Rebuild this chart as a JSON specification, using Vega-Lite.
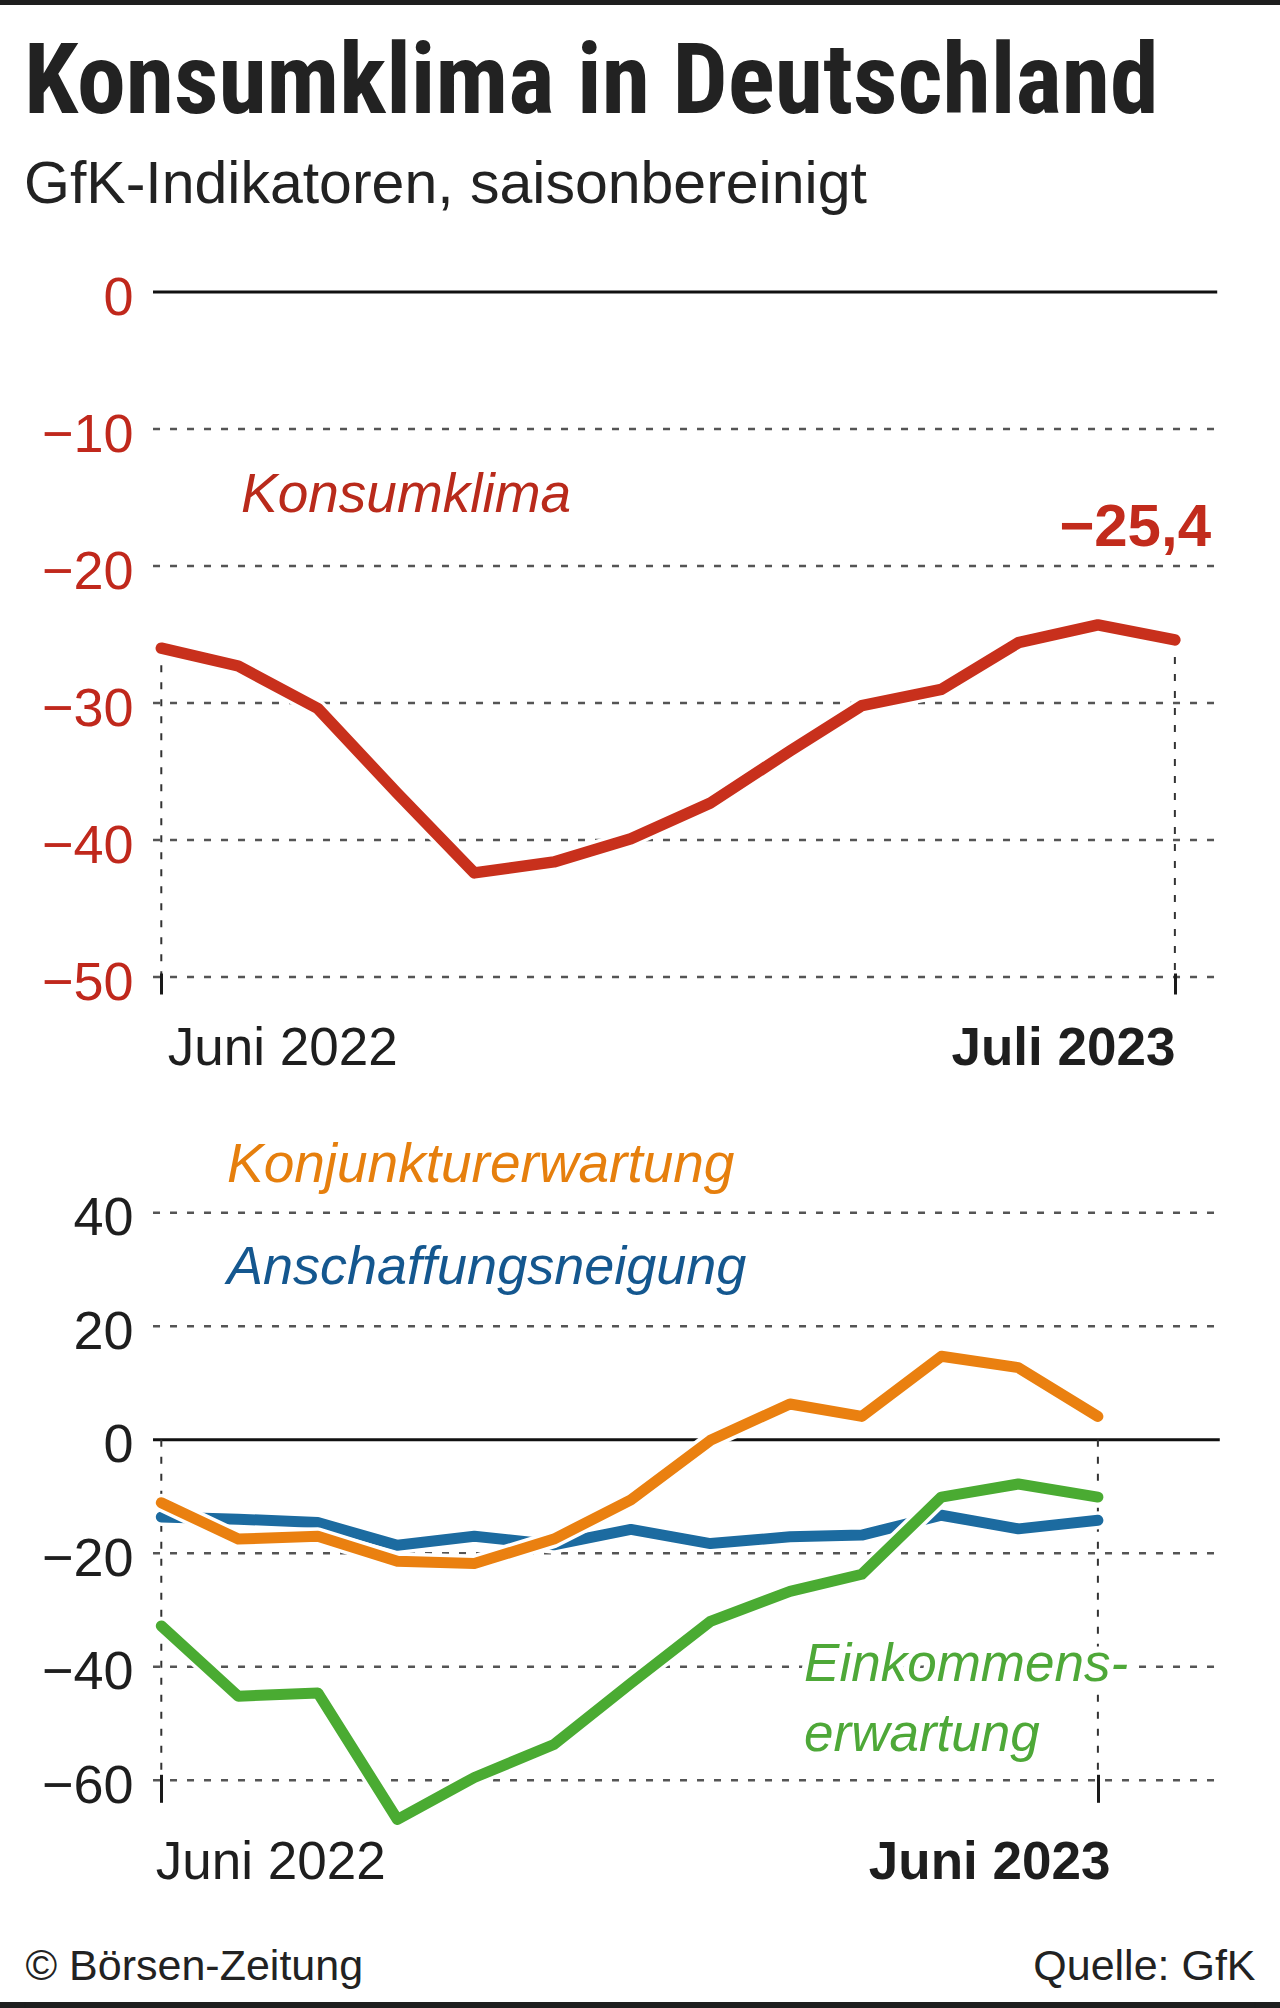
{
  "$schema": "https://vega.github.io/schema/vega-lite/v6.json",
  "background": "white",
  "padding": 0,
  "spacing": 30,
  "config": {
    "view": {"stroke": null},
    "font": "Liberation Sans",
    "locale": {
      "number": {"decimal": ",", "thousands": ".", "grouping": [3], "currency": ["", " €"], "minus": "−"},
      "time": {
        "dateTime": "%A, der %e. %B %Y, %X",
        "date": "%d.%m.%Y",
        "time": "%H:%M:%S",
        "periods": ["AM", "PM"],
        "days": ["Sonntag", "Montag", "Dienstag", "Mittwoch", "Donnerstag", "Freitag", "Samstag"],
        "shortDays": ["So", "Mo", "Di", "Mi", "Do", "Fr", "Sa"],
        "months": ["Januar", "Februar", "März", "April", "Mai", "Juni", "Juli", "August", "September", "Oktober", "November", "Dezember"],
        "shortMonths": ["Jan", "Feb", "Mrz", "Apr", "Mai", "Jun", "Jul", "Aug", "Sep", "Okt", "Nov", "Dez"]
      }
    }
  },
  "datasets": {
    "konsum": [
      {"monat": "2022-06-01", "wert": -26.0},
      {"monat": "2022-07-01", "wert": -27.3},
      {"monat": "2022-08-01", "wert": -30.4},
      {"monat": "2022-09-01", "wert": -36.6},
      {"monat": "2022-10-01", "wert": -42.4},
      {"monat": "2022-11-01", "wert": -41.6},
      {"monat": "2022-12-01", "wert": -39.9},
      {"monat": "2023-01-01", "wert": -37.3},
      {"monat": "2023-02-01", "wert": -33.5},
      {"monat": "2023-03-01", "wert": -30.2},
      {"monat": "2023-04-01", "wert": -29.0},
      {"monat": "2023-05-01", "wert": -25.6},
      {"monat": "2023-06-01", "wert": -24.3},
      {"monat": "2023-07-01", "wert": -25.4}
    ],
    "indikatoren": [
      {"monat": "2022-06-01", "konjunkturerwartung": -11.1, "einkommenserwartung": -32.8, "anschaffungsneigung": -13.6},
      {"monat": "2022-07-01", "konjunkturerwartung": -17.5, "einkommenserwartung": -45.2, "anschaffungsneigung": -14.0},
      {"monat": "2022-08-01", "konjunkturerwartung": -17.0, "einkommenserwartung": -44.6, "anschaffungsneigung": -14.6},
      {"monat": "2022-09-01", "konjunkturerwartung": -21.4, "einkommenserwartung": -66.9, "anschaffungsneigung": -18.6},
      {"monat": "2022-10-01", "konjunkturerwartung": -21.8, "einkommenserwartung": -59.5, "anschaffungsneigung": -17.0},
      {"monat": "2022-11-01", "konjunkturerwartung": -17.5, "einkommenserwartung": -53.7, "anschaffungsneigung": -18.5},
      {"monat": "2022-12-01", "konjunkturerwartung": -10.6, "einkommenserwartung": -42.9, "anschaffungsneigung": -15.8},
      {"monat": "2023-01-01", "konjunkturerwartung": -0.1, "einkommenserwartung": -32.0, "anschaffungsneigung": -18.3},
      {"monat": "2023-02-01", "konjunkturerwartung": 6.3, "einkommenserwartung": -26.7, "anschaffungsneigung": -17.1},
      {"monat": "2023-03-01", "konjunkturerwartung": 4.1, "einkommenserwartung": -23.7, "anschaffungsneigung": -16.8},
      {"monat": "2023-04-01", "konjunkturerwartung": 14.7, "einkommenserwartung": -10.1, "anschaffungsneigung": -13.3},
      {"monat": "2023-05-01", "konjunkturerwartung": 12.7, "einkommenserwartung": -7.8, "anschaffungsneigung": -15.7},
      {"monat": "2023-06-01", "konjunkturerwartung": 4.1, "einkommenserwartung": -10.1, "anschaffungsneigung": -14.2}
    ],
    "raster_oben": [{"linie": -10}, {"linie": -20}, {"linie": -30}, {"linie": -40}, {"linie": -50}],
    "raster_unten": [{"linie": 40}, {"linie": 20}, {"linie": -20}, {"linie": -40}, {"linie": -60}],
    "fusszeile": [{"quelle": "© Börsen-Zeitung"}, {"quelle": "Quelle: GfK"}]
  },
  "vconcat": [
    {
      "width": 1280,
      "height": 5,
      "data": {"values": [{"balken": "oben"}]},
      "mark": {"type": "rect", "color": "#1e1e1e"},
      "encoding": {}
    },
    {
      "spacing": 56,
      "vconcat": [
        {
          "width": 1280,
          "height": 685,
          "title": {
            "text": "Konsumklima in Deutschland",
            "subtitle": "GfK-Indikatoren, saisonbereinigt",
            "anchor": "start",
            "frame": "group",
            "dx": 24,
            "offset": 55,
            "font": "Roboto Condensed, DejaVu Sans Condensed, Liberation Sans",
            "fontSize": 98,
            "fontWeight": "bold",
            "color": "#222222",
            "subtitleFont": "Liberation Sans",
            "subtitleFontSize": 59,
            "subtitleColor": "#222222",
            "subtitlePadding": 22
          },
          "data": {"name": "konsum"},
          "layer": [
            {
              "data": {"name": "raster_oben"},
              "mark": {"type": "rule", "color": "#555555", "strokeWidth": 2.5, "strokeDash": [7, 10]},
              "encoding": {
                "x": {"datum": {"year": 2022, "month": 5, "date": 28, "hours": 18, "minutes": 30, "utc": true}, "type": "temporal"},
                "x2": {"datum": {"year": 2023, "month": 7, "date": 17, "hours": 12, "utc": true}},
                "y": {"field": "linie", "type": "quantitative"}
              }
            },
            {
              "data": {"values": [{"linie": "null"}]},
              "mark": {"type": "rule", "color": "#111111", "strokeWidth": 3},
              "encoding": {
                "x": {"datum": {"year": 2022, "month": 5, "date": 28, "hours": 18, "minutes": 30, "utc": true}, "type": "temporal"},
                "x2": {"datum": {"year": 2023, "month": 7, "date": 17, "hours": 12, "utc": true}},
                "y": {"datum": 0, "type": "quantitative"}
              }
            },
            {
              "transform": [{"filter": "time(datum.monat) === utc(2022,5,1) || time(datum.monat) === utc(2023,6,1)"}],
              "mark": {"type": "rule", "color": "#333333", "strokeWidth": 2, "strokeDash": [7, 10]},
              "encoding": {
                "x": {"field": "monat", "type": "temporal"},
                "y": {"field": "wert", "type": "quantitative"},
                "y2": {"datum": -50}
              }
            },
            {
              "mark": {"type": "line", "color": "white", "strokeWidth": 18, "strokeCap": "round", "strokeJoin": "round"},
              "encoding": {
                "x": {"field": "monat", "type": "temporal"},
                "y": {"field": "wert", "type": "quantitative"}
              }
            },
            {
              "mark": {"type": "line", "color": "#c8301c", "strokeWidth": 11.5, "strokeCap": "round", "strokeJoin": "round"},
              "encoding": {
                "x": {
                  "field": "monat",
                  "type": "temporal",
                  "scale": {
                    "type": "utc",
                    "domain": [
                      {"year": 2022, "month": 3, "date": 30, "hours": 3, "minutes": 22, "utc": true},
                      {"year": 2023, "month": 8, "date": 10, "hours": 23, "minutes": 16, "utc": true}
                    ]
                  },
                  "axis": {
                    "values": [
                      {"year": 2022, "month": 6, "date": 1, "utc": true},
                      {"year": 2023, "month": 7, "date": 1, "utc": true}
                    ],
                    "labelExpr": "['Januar','Februar','März','April','Mai','Juni','Juli','August','September','Oktober','November','Dezember'][utcmonth(datum.value)] + ' ' + utcyear(datum.value)",
                    "title": null,
                    "domain": false,
                    "grid": false,
                    "ticks": true,
                    "tickSize": 21,
                    "tickWidth": 3,
                    "tickColor": "#1a1a1a",
                    "offset": -4,
                    "labelPadding": 28,
                    "labelFont": "Liberation Sans",
                    "labelFontSize": 53,
                    "labelColor": "#1e1e1e",
                    "labelFontWeight": {"condition": {"test": "utcyear(datum.value) === 2023", "value": "bold"}, "value": "normal"},
                    "labelAlign": {"condition": {"test": "utcyear(datum.value) === 2022", "value": "left"}, "value": "right"},
                    "labelOffset": {"condition": {"test": "utcyear(datum.value) === 2022", "value": 6}, "value": 0},
                    "labelFlush": false,
                    "labelOverlap": false,
                    "labelBound": false,
                    "labelLimit": 0,
                    "zindex": 1
                  }
                },
                "y": {
                  "field": "wert",
                  "type": "quantitative",
                  "scale": {"domain": [-50, 0], "nice": false, "zero": false},
                  "axis": {
                    "values": [0, -10, -20, -30, -40, -50],
                    "title": null,
                    "domain": false,
                    "grid": false,
                    "ticks": false,
                    "tickSize": 0,
                    "offset": -153,
                    "labelPadding": 20,
                    "labelFont": "Liberation Sans",
                    "labelFontSize": 54,
                    "labelColor": "#c0281c",
                    "labelOffset": 6,
                    "labelOverlap": false
                  }
                }
              }
            },
            {
              "data": {"values": [{"beschriftung": "Konsumklima"}]},
              "mark": {"type": "text", "align": "left", "baseline": "alphabetic", "font": "Liberation Sans", "fontSize": 55, "fontStyle": "italic", "color": "#b92a1b"},
              "encoding": {
                "x": {"datum": {"year": 2022, "month": 7, "date": 2, "hours": 1, "utc": true}, "type": "temporal"},
                "y": {"datum": -16.04, "type": "quantitative"},
                "text": {"field": "beschriftung"}
              }
            },
            {
              "transform": [{"filter": "time(datum.monat) === utc(2023,6,1)"}],
              "mark": {"type": "text", "align": "right", "baseline": "alphabetic", "font": "Liberation Sans", "fontSize": 60, "fontWeight": "bold", "color": "#c22b1c"},
              "encoding": {
                "x": {"datum": {"year": 2023, "month": 7, "date": 15, "hours": 2, "utc": true}, "type": "temporal"},
                "y": {"datum": -18.54, "type": "quantitative"},
                "text": {"field": "wert", "type": "quantitative", "format": ".1f"}
              }
            }
          ]
        },
        {
          "width": 1280,
          "height": 649.3,
          "data": {"name": "indikatoren"},
          "layer": [
            {
              "data": {"name": "raster_unten"},
              "mark": {"type": "rule", "color": "#555555", "strokeWidth": 2.5, "strokeDash": [7, 10]},
              "encoding": {
                "x": {"datum": {"year": 2022, "month": 5, "date": 28, "hours": 18, "minutes": 30, "utc": true}, "type": "temporal"},
                "x2": {"datum": {"year": 2023, "month": 7, "date": 18, "hours": 12, "utc": true}},
                "y": {"field": "linie", "type": "quantitative"}
              }
            },
            {
              "data": {"values": [{"linie": "null"}]},
              "mark": {"type": "rule", "color": "#111111", "strokeWidth": 3},
              "encoding": {
                "x": {"datum": {"year": 2022, "month": 5, "date": 28, "hours": 18, "minutes": 30, "utc": true}, "type": "temporal"},
                "x2": {"datum": {"year": 2023, "month": 7, "date": 18, "hours": 12, "utc": true}},
                "y": {"datum": 0, "type": "quantitative"}
              }
            },
            {
              "transform": [{"filter": "time(datum.monat) === utc(2022,5,1) || time(datum.monat) === utc(2023,5,1)"}],
              "mark": {"type": "rule", "color": "#333333", "strokeWidth": 2, "strokeDash": [7, 10]},
              "encoding": {
                "x": {"field": "monat", "type": "temporal"},
                "y": {"datum": 0, "type": "quantitative"},
                "y2": {"datum": -60}
              }
            },
            {
              "mark": {"type": "line", "color": "white", "strokeWidth": 18, "strokeCap": "round", "strokeJoin": "round"},
              "encoding": {
                "x": {"field": "monat", "type": "temporal"},
                "y": {"field": "anschaffungsneigung", "type": "quantitative"}
              }
            },
            {
              "mark": {"type": "line", "color": "#1c6ba0", "strokeWidth": 11, "strokeCap": "round", "strokeJoin": "round"},
              "encoding": {
                "x": {"field": "monat", "type": "temporal"},
                "y": {"field": "anschaffungsneigung", "type": "quantitative"}
              }
            },
            {
              "mark": {"type": "line", "color": "white", "strokeWidth": 18, "strokeCap": "round", "strokeJoin": "round"},
              "encoding": {
                "x": {"field": "monat", "type": "temporal"},
                "y": {"field": "einkommenserwartung", "type": "quantitative"}
              }
            },
            {
              "mark": {"type": "line", "color": "#4aab32", "strokeWidth": 11, "strokeCap": "round", "strokeJoin": "round"},
              "encoding": {
                "x": {"field": "monat", "type": "temporal"},
                "y": {"field": "einkommenserwartung", "type": "quantitative"}
              }
            },
            {
              "mark": {"type": "line", "color": "white", "strokeWidth": 18, "strokeCap": "round", "strokeJoin": "round"},
              "encoding": {
                "x": {"field": "monat", "type": "temporal"},
                "y": {"field": "konjunkturerwartung", "type": "quantitative"}
              }
            },
            {
              "mark": {"type": "line", "color": "#ea8010", "strokeWidth": 11, "strokeCap": "round", "strokeJoin": "round"},
              "encoding": {
                "x": {
                  "field": "monat",
                  "type": "temporal",
                  "scale": {
                    "type": "utc",
                    "domain": [
                      {"year": 2022, "month": 3, "date": 30, "hours": 3, "minutes": 22, "utc": true},
                      {"year": 2023, "month": 8, "date": 10, "hours": 23, "minutes": 16, "utc": true}
                    ]
                  },
                  "axis": {
                    "values": [
                      {"year": 2022, "month": 6, "date": 1, "utc": true},
                      {"year": 2023, "month": 6, "date": 1, "utc": true}
                    ],
                    "labelExpr": "['Januar','Februar','März','April','Mai','Juni','Juli','August','September','Oktober','November','Dezember'][utcmonth(datum.value)] + ' ' + utcyear(datum.value)",
                    "title": null,
                    "domain": false,
                    "grid": false,
                    "ticks": true,
                    "tickSize": 28,
                    "tickWidth": 3,
                    "tickColor": "#1a1a1a",
                    "offset": -6,
                    "labelPadding": 33.7,
                    "labelFont": "Liberation Sans",
                    "labelFontSize": 53,
                    "labelColor": "#1e1e1e",
                    "labelFontWeight": {"condition": {"test": "utcyear(datum.value) === 2023", "value": "bold"}, "value": "normal"},
                    "labelAlign": {"condition": {"test": "utcyear(datum.value) === 2022", "value": "left"}, "value": "right"},
                    "labelOffset": {"condition": {"test": "utcyear(datum.value) === 2022", "value": -6}, "value": 12},
                    "labelFlush": false,
                    "labelOverlap": false,
                    "labelBound": false,
                    "labelLimit": 0,
                    "zindex": 1
                  }
                },
                "y": {
                  "field": "konjunkturerwartung",
                  "type": "quantitative",
                  "scale": {"domain": [-60, 54.39], "nice": false, "zero": false},
                  "axis": {
                    "values": [40, 20, 0, -20, -40, -60],
                    "title": null,
                    "domain": false,
                    "grid": false,
                    "ticks": false,
                    "tickSize": 0,
                    "offset": -153,
                    "labelPadding": 20,
                    "labelFont": "Liberation Sans",
                    "labelFontSize": 54,
                    "labelColor": "#1e1e1e",
                    "labelOffset": 6,
                    "labelOverlap": false
                  }
                }
              }
            },
            {
              "data": {"values": [{"beschriftung": "Konjunkturerwartung"}]},
              "mark": {"type": "text", "align": "left", "baseline": "alphabetic", "font": "Liberation Sans", "fontSize": 55, "fontStyle": "italic", "color": "#e67f0d"},
              "encoding": {
                "x": {"datum": {"year": 2022, "month": 6, "date": 26, "hours": 14, "utc": true}, "type": "temporal"},
                "y": {"datum": 45.33, "type": "quantitative"},
                "text": {"field": "beschriftung"}
              }
            },
            {
              "data": {"values": [{"beschriftung": "Anschaffungsneigung"}]},
              "mark": {"type": "text", "align": "left", "baseline": "alphabetic", "font": "Liberation Sans", "fontSize": 54, "fontStyle": "italic", "color": "#14578f"},
              "encoding": {
                "x": {"datum": {"year": 2022, "month": 6, "date": 26, "hours": 14, "utc": true}, "type": "temporal"},
                "y": {"datum": 27.43, "type": "quantitative"},
                "text": {"field": "beschriftung"}
              }
            },
            {
              "data": {"values": [{"beschriftung": "Einkommenserwartung"}]},
              "mark": {"type": "text", "text": ["Einkommens-", "erwartung"], "lineHeight": 70, "align": "left", "baseline": "alphabetic", "font": "Liberation Sans", "fontSize": 53, "fontStyle": "italic", "color": "white", "stroke": "white", "strokeWidth": 12, "strokeJoin": "round"},
              "encoding": {
                "x": {"datum": {"year": 2023, "month": 2, "date": 6, "hours": 12, "utc": true}, "type": "temporal"},
                "y": {"datum": -42.46, "type": "quantitative"}
              }
            },
            {
              "data": {"values": [{"beschriftung": "Einkommenserwartung"}]},
              "mark": {"type": "text", "text": ["Einkommens-", "erwartung"], "lineHeight": 70, "align": "left", "baseline": "alphabetic", "font": "Liberation Sans", "fontSize": 53, "fontStyle": "italic", "color": "#4ea838"},
              "encoding": {
                "x": {"datum": {"year": 2023, "month": 2, "date": 6, "hours": 12, "utc": true}, "type": "temporal"},
                "y": {"datum": -42.46, "type": "quantitative"}
              }
            }
          ]
        },
        {
          "width": 1280,
          "height": 7,
          "data": {"name": "fusszeile"},
          "layer": [
            {
              "mark": {"type": "rect", "color": "#1e1e1e"},
              "encoding": {}
            },
            {
              "mark": {"type": "rule", "color": "#1e1e1e", "strokeWidth": 1},
              "encoding": {
                "x": {
                  "field": "quelle",
                  "type": "nominal",
                  "scale": {"type": "point", "domain": ["© Börsen-Zeitung", "Quelle: GfK"], "padding": 0.0203},
                  "axis": {
                    "orient": "top",
                    "title": null,
                    "domain": false,
                    "grid": false,
                    "ticks": false,
                    "tickSize": 0,
                    "labelPadding": 23,
                    "labelBaseline": "alphabetic",
                    "labelFont": "Liberation Sans",
                    "labelFontSize": 43,
                    "labelColor": "#222222",
                    "labelAngle": 0,
                    "labelAlign": {"condition": {"test": "datum.value === 'Quelle: GfK'", "value": "right"}, "value": "left"},
                    "labelFlush": false,
                    "labelOverlap": false,
                    "labelLimit": 0
                  }
                }
              }
            }
          ]
        }
      ]
    }
  ]
}
